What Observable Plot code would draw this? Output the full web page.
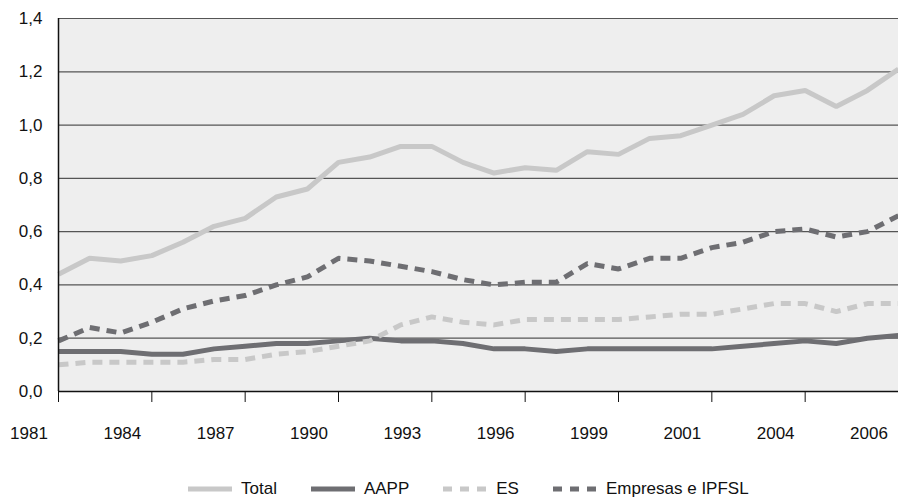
<!DOCTYPE html>
<html>
<head>
<meta charset="utf-8">
<script src="https://cdn.jsdelivr.net/npm/d3@7"></script>
<script src="https://cdn.jsdelivr.net/npm/@observablehq/plot@0.6"></script>
<style>
  body { margin: 0; background: #fff; font-family: "Liberation Sans", Arial, Helvetica, sans-serif; }
  #legend { display: flex; align-items: center; height: 28px; padding-left: 188px; font-size: 17px; color: #111; }
  .item { display: flex; align-items: center; margin-right: 34px; }
  .item svg { margin-right: 9px; }
</style>
</head>
<body>
<div id="chart"></div>
<div id="legend"></div>
<script>
const tickLabels = ["1981","1984","1987","1990","1993","1996","1999","2001","2004","2006"];
const total    = [0.44,0.50,0.49,0.51,0.56,0.62,0.65,0.73,0.76,0.86,0.88,0.92,0.92,0.86,0.82,0.84,0.83,0.90,0.89,0.95,0.96,1.00,1.04,1.11,1.13,1.07,1.13,1.21];
const aapp     = [0.15,0.15,0.15,0.14,0.14,0.16,0.17,0.18,0.18,0.19,0.20,0.19,0.19,0.18,0.16,0.16,0.15,0.16,0.16,0.16,0.16,0.16,0.17,0.18,0.19,0.18,0.20,0.21];
const es       = [0.10,0.11,0.11,0.11,0.11,0.12,0.12,0.14,0.15,0.17,0.19,0.25,0.28,0.26,0.25,0.27,0.27,0.27,0.27,0.28,0.29,0.29,0.31,0.33,0.33,0.30,0.33,0.33];
const empresas = [0.19,0.24,0.22,0.26,0.31,0.34,0.36,0.40,0.43,0.50,0.49,0.47,0.45,0.42,0.40,0.41,0.41,0.48,0.46,0.50,0.50,0.54,0.56,0.60,0.61,0.58,0.60,0.66];
const yTicks = [0, 0.2, 0.4, 0.6, 0.8, 1.0, 1.2, 1.4];

const series = [
  {name: "Total", values: total, color: "#c8c8c8", dash: null},
  {name: "AAPP", values: aapp, color: "#6e6e72", dash: null},
  {name: "ES", values: es, color: "#c8c8c8", dash: "10,7"},
  {name: "Empresas e IPFSL", values: empresas, color: "#6e6e72", dash: "10,7"}
];

const n = total.length;
const labelIdx = tickLabels.map((_, k) => k * 3);
const tickIdx = labelIdx.filter(i => i < n - 1);

const chart = Plot.plot({
  width: 898,
  height: 475,
  marginLeft: 58,
  marginRight: 0,
  marginTop: 18,
  marginBottom: 84,
  style: {fontFamily: "'Liberation Sans', Arial, Helvetica, sans-serif", color: "#111", background: "#fff"},
  x: {domain: [0, n - 1], axis: null},
  y: {domain: [0, 1.4], axis: null},
  marks: [
    Plot.frame({fill: "#eeeeee", stroke: null}),
    Plot.ruleY(yTicks.slice(1), {stroke: "#555", strokeWidth: 1.2}),
    ...series.map(s => Plot.line(s.values, {
      x: (d, i) => i, y: d => d,
      stroke: s.color, strokeWidth: 5, strokeLinejoin: "miter", strokeLinecap: "butt",
      strokeDasharray: s.dash
    })),
    Plot.ruleX([0], {stroke: "#111", strokeWidth: 1.5}),
    Plot.ruleY([0], {stroke: "#111", strokeWidth: 1.5}),
    Plot.axisY({ticks: yTicks, tickFormat: d => d.toFixed(1).replace(".", ","), tickSize: 0, tickPadding: 16, fontSize: 17}),
    Plot.axisX({ticks: tickIdx, tickSize: 11, tickFormat: () => "", stroke: "#111", strokeWidth: 1}),
    Plot.axisX({ticks: labelIdx, tickSize: 0, tickPadding: 35, dx: -29.5, fontSize: 17, tickFormat: d => tickLabels[d / 3]})
  ]
});
document.getElementById("chart").appendChild(chart);

const legend = document.getElementById("legend");
for (const s of series) {
  const item = document.createElement("div");
  item.className = "item";
  item.innerHTML = `<svg width="44" height="10"><line x1="0" x2="44" y1="5" y2="5" stroke="${s.color}" stroke-width="5" ${s.dash ? 'stroke-dasharray="9,8"' : ''}/></svg><span>${s.name}</span>`;
  legend.appendChild(item);
}
</script>
</body>
</html>
